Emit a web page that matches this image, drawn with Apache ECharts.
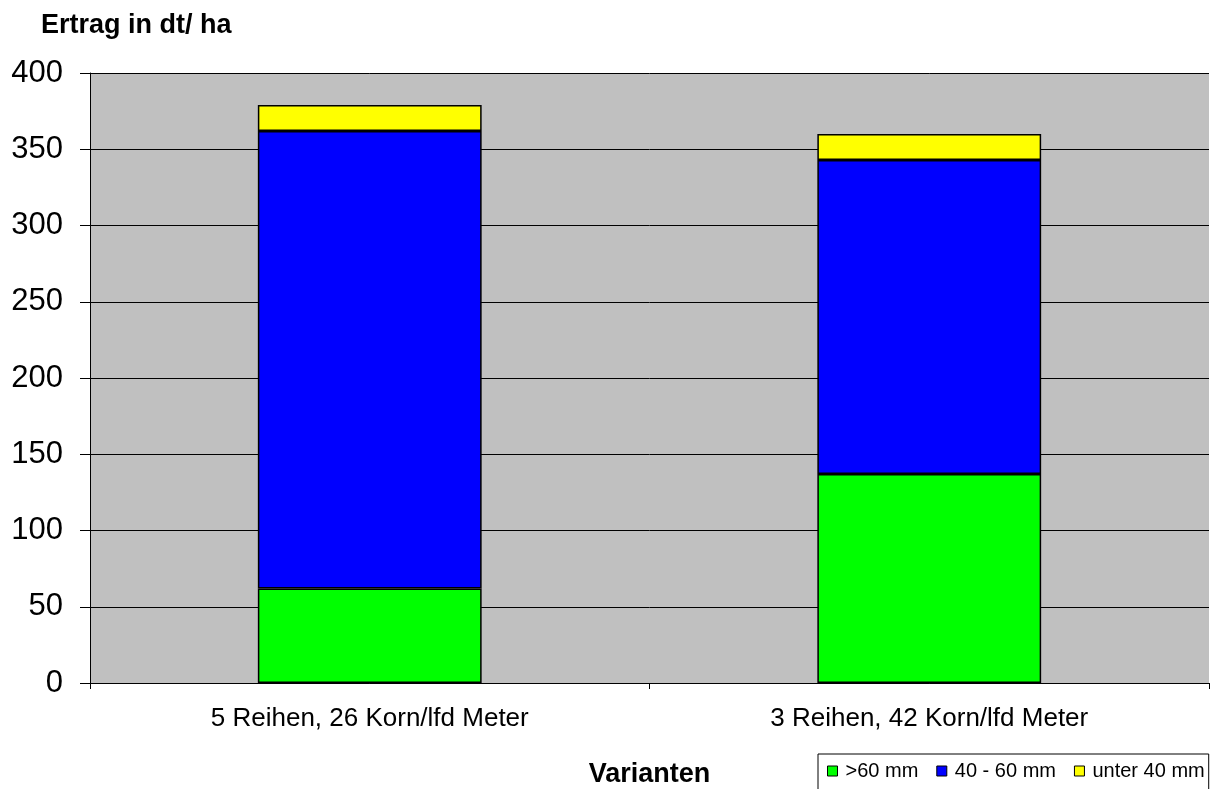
<!DOCTYPE html>
<html>
<head>
<meta charset="utf-8">
<script src="https://cdn.jsdelivr.net/npm/echarts@6/dist/echarts.min.js"></script>
<style>
  html, body { margin: 0; padding: 0; background: #fff; }
  #chart { width: 1219px; height: 789px; }
</style>
</head>
<body>
<div id="chart"></div>
<script>
const categories = ['5 Reihen, 26 Korn/lfd Meter', '3 Reihen, 42 Korn/lfd Meter']
const seriesNames = ['>60 mm', '40 - 60 mm', 'unter 40 mm']
const over60 = [62, 137]
const from40to60 = [300, 206]
const under40 = [17, 17]
const yTicks = [0, 50, 100, 150, 200, 250, 300, 350, 400]

const chart = echarts.init(document.getElementById('chart'))
const font = 'Arial, "Liberation Sans", sans-serif'
const colors = ['#00ff00', '#0000ff', '#ffff00']

function barSeries(name, data, color) {
  return {
    name,
    type: 'bar',
    stack: 'total',
    data,
    barWidth: '40%',
    itemStyle: { color, borderColor: '#000', borderWidth: 1.5 }
  }
}

chart.setOption({
  animation: false,
  textStyle: { fontFamily: font },
  title: {
    text: 'Ertrag in dt/ ha',
    left: 36,
    top: 7,
    textStyle: { fontSize: 27, fontWeight: 'bold', color: '#000', fontFamily: font }
  },
  grid: {
    left: 90,
    right: 10,
    top: 73,
    bottom: 106,
    outerBoundsMode: 'none',
    containLabel: false,
    show: true,
    backgroundColor: '#c0c0c0',
    borderWidth: 0
  },
  legend: {
    left: 818,
    top: 754,
    itemWidth: 10,
    itemHeight: 10,
    itemGap: 18,
    padding: [7, 4, 12, 9],
    borderColor: '#000',
    borderWidth: 1,
    backgroundColor: '#fff',
    icon: 'rect',
    textStyle: { fontSize: 20, color: '#000', padding: [0, 0, 0, 3] },
    data: seriesNames.map((n, i) => ({
      name: n,
      itemStyle: { color: colors[i], borderColor: '#000', borderWidth: 1 }
    }))
  },
  xAxis: {
    type: 'category',
    data: categories,
    name: 'Varianten',
    nameLocation: 'middle',
    nameGap: 78,
    nameTextStyle: { fontSize: 27, fontWeight: 'bold', color: '#000' },
    axisLine: { lineStyle: { color: '#000', width: 1 } },
    axisTick: { show: true, length: 6, lineStyle: { color: '#000' } },
    axisLabel: { fontSize: 26, color: '#000', margin: 23 }
  },
  yAxis: {
    type: 'value',
    min: yTicks[0],
    max: yTicks[yTicks.length - 1],
    interval: 50,
    axisLine: { show: true, lineStyle: { color: '#000', width: 1 } },
    axisTick: { show: true, length: 10, lineStyle: { color: '#000' } },
    axisLabel: { fontSize: 31, color: '#000', margin: 27 },
    splitLine: { lineStyle: { color: '#000', width: 1 } }
  },
  series: [
    barSeries(seriesNames[0], over60, colors[0]),
    barSeries(seriesNames[1], from40to60, colors[1]),
    barSeries(seriesNames[2], under40, colors[2])
  ]
})
</script>
</body>
</html>
